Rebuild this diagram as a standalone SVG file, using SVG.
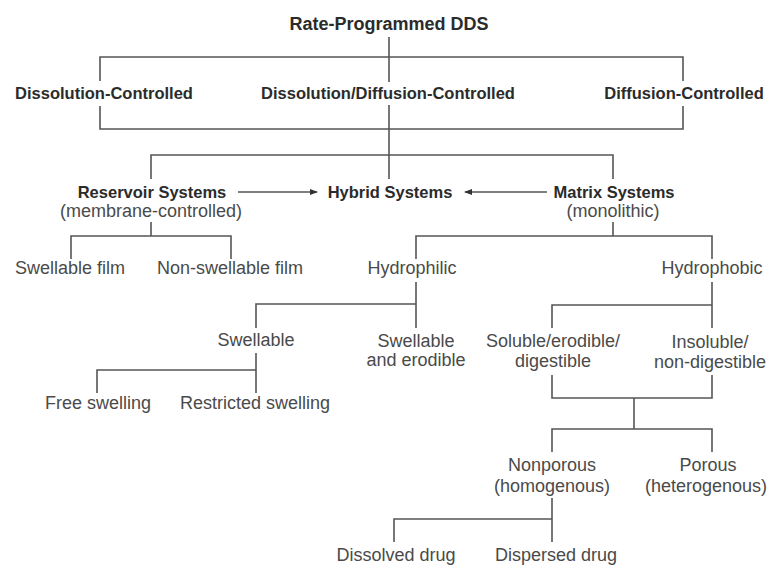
<svg xmlns="http://www.w3.org/2000/svg" width="767" height="569" viewBox="0 0 767 569">
<style>
text{font-family:"Liberation Sans",Arial,sans-serif;text-anchor:middle}
.b{font-weight:bold;font-size:16.5px;fill:#2b2b2b}
.t{font-size:18px}
.r{font-size:18px;fill:#4a4a4a}
.c path,.c line{stroke:#555;stroke-width:1.6;fill:none}
</style>
<defs>
<marker id="ah" viewBox="0 0 8 8" refX="7" refY="4" markerWidth="8" markerHeight="8" markerUnits="userSpaceOnUse" orient="auto">
<path d="M0,1 L8,4 L0,7 Z" fill="#333"/>
</marker>
</defs>
<rect width="767" height="569" fill="#fff"/>
<g class="c" id="connectors">
<line x1="389" y1="37" x2="389" y2="82"/>
<path d="M100,81 V57 H683 V81"/>
<path d="M100,106 V129 H683 V106"/>
<line x1="389" y1="105" x2="389" y2="179"/>
<path d="M151,179 V155 H613 V179"/>
<line x1="238" y1="192" x2="317" y2="192" marker-end="url(#ah)"/>
<line x1="547" y1="192" x2="465" y2="192" marker-end="url(#ah)"/>
<line x1="151" y1="222" x2="151" y2="236"/>
<path d="M71,259 V236 H231 V259"/>
<line x1="613" y1="222" x2="613" y2="236"/>
<path d="M416,259 V236 H712 V259"/>
<line x1="416" y1="282" x2="416" y2="328"/>
<path d="M256,328 V304 H416"/>
<line x1="712" y1="282" x2="712" y2="328"/>
<path d="M552,328 V305 H712"/>
<line x1="256" y1="353" x2="256" y2="393"/>
<path d="M97,393 V370 H256"/>
<path d="M552,375 V398 H712 V375"/>
<line x1="634" y1="398" x2="634" y2="429"/>
<path d="M552,452 V429 H712 V452"/>
<line x1="552" y1="498" x2="552" y2="542"/>
<path d="M394,542 V519 H552"/>
</g>
<g id="root"><text class="b t" x="389" y="30">Rate-Programmed DDS</text></g>
<g id="dissolution"><text class="b" x="104" y="99">Dissolution-Controlled</text></g>
<g id="dissdiff"><text class="b" x="388" y="99">Dissolution/Diffusion-Controlled</text></g>
<g id="diffusion"><text class="b" x="684" y="99">Diffusion-Controlled</text></g>
<g id="reservoir"><text class="b" x="152" y="198">Reservoir Systems</text><text class="r" x="151" y="217">(membrane-controlled)</text></g>
<g id="hybrid"><text class="b" x="390" y="198">Hybrid Systems</text></g>
<g id="matrix"><text class="b" x="614" y="198">Matrix Systems</text><text class="r" x="613" y="217">(monolithic)</text></g>
<g id="swfilm"><text class="r" x="70" y="274">Swellable film</text></g>
<g id="nonswfilm"><text class="r" x="230" y="274">Non-swellable film</text></g>
<g id="hydrophilic"><text class="r" x="412" y="274">Hydrophilic</text></g>
<g id="hydrophobic"><text class="r" x="712" y="274">Hydrophobic</text></g>
<g id="swellable"><text class="r" x="256" y="346">Swellable</text></g>
<g id="swero"><text class="r" x="416" y="347">Swellable</text><text class="r" x="416" y="366">and erodible</text></g>
<g id="soluble"><text class="r" x="553" y="347">Soluble/erodible/</text><text class="r" x="553" y="367">digestible</text></g>
<g id="insoluble"><text class="r" x="710" y="348">Insoluble/</text><text class="r" x="710" y="368">non-digestible</text></g>
<g id="free"><text class="r" x="98" y="409">Free swelling</text></g>
<g id="restricted"><text class="r" x="255" y="409">Restricted swelling</text></g>
<g id="nonporous"><text class="r" x="552" y="471">Nonporous</text><text class="r" x="552" y="492">(homogenous)</text></g>
<g id="porous"><text class="r" x="708" y="471">Porous</text><text class="r" x="706" y="492">(heterogenous)</text></g>
<g id="dissolved"><text class="r" x="396" y="561">Dissolved drug</text></g>
<g id="dispersed"><text class="r" x="556" y="561">Dispersed drug</text></g>
</svg>
